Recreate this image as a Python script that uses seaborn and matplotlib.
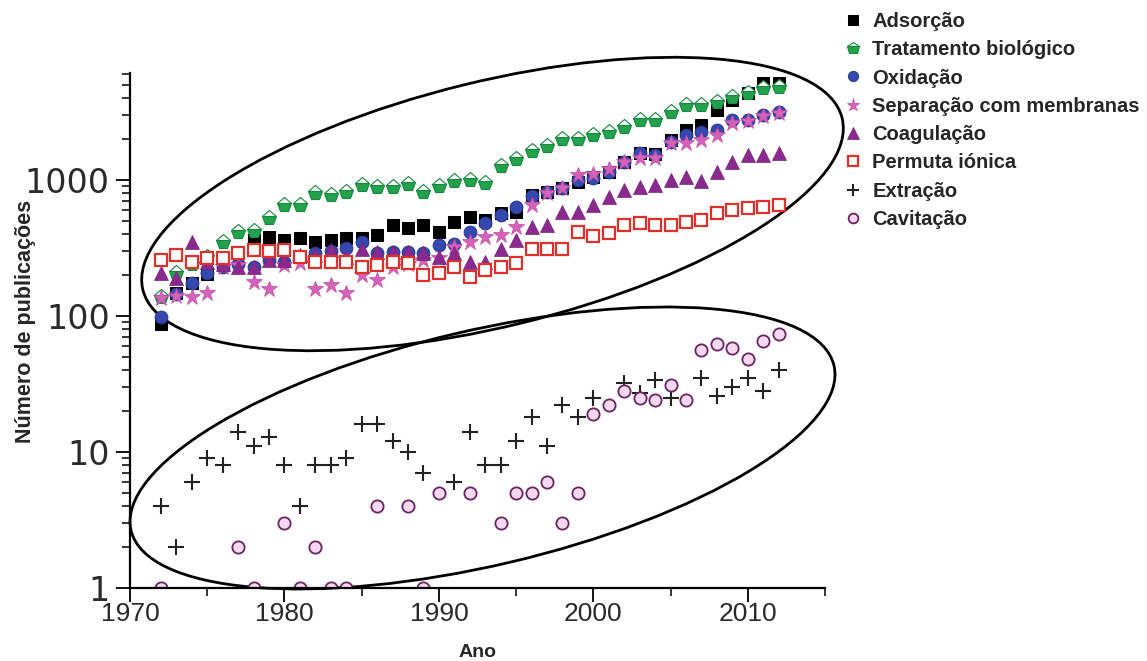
import numpy as np
import pandas as pd
import matplotlib
matplotlib.use("Agg")
import matplotlib.pyplot as plt
import seaborn as sns
from matplotlib.patches import Ellipse
from matplotlib.ticker import FixedLocator, MultipleLocator, LogLocator, NullFormatter, FuncFormatter

nan = np.nan
anos = list(range(1972, 2013))

adsorcao = [88, 148, 175, 205, 245, 297, 362, 383, 362, 373, 351, 362, 373, 373,
            394, 467, 441, 467, 417, 494, 537, 508, 569, 585, 776, 810, 880, 960,
            1050, 1150, 1350, 1580, 1560, 1968, 2333, 2536, 3272, 3873, 4340, 5140, 5200]
tratamento = [139, 207, 240, 273, 351, 417, 425, 526, 655, 655, 798, 776, 820, 919,
              893, 893, 935, 820, 905, 980, 1000, 945, 1260, 1437, 1645, 1788, 2000, 2000,
              2143, 2266, 2466, 2761, 2761, 3177, 3556, 3556, 3764, 4100, 4340, 4720, 4856]
oxidacao = [99, 145, 175, 207, 228, 240, 231, 258, 250, 273, 290, 300, 315, 351,
            290, 297, 297, 290, 331, 341, 417, 481, 550, 638, 760, 820, 870, 1000,
            1030, 1151, 1364, 1570, 1520, 1913, 2143, 2266, 2330, 2761, 2761, 3006, 3177]
membranas = [135, 140, 139, 147, 231, 237, 178, 159, 237, 244, 159, 168, 147, 200,
             184, 230, 240, 258, 265, 324, 351, 383, 394, 455, 655, 798, 870, 1090,
             1100, 1200, 1350, 1443, 1443, 1862, 1862, 1968, 2143, 2612, 2700, 2950, 3100]
coagulacao = [207, 190, 351, 250, 240, 230, 231, 258, 258, 280, 280, 305, 273, 313,
              297, 297, 297, 290, 273, 290, 250, 250, 313, 362, 455, 467, 585, 585,
              655, 753, 844, 893, 919, 1000, 1058, 980, 1151, 1364, 1520, 1520, 1570]
permuta = [258, 281, 250, 265, 265, 290, 305, 302, 305, 273, 250, 250, 250, 231,
           237, 250, 244, 200, 206, 231, 195, 217, 231, 244, 313, 313, 313, 417,
           390, 405, 467, 481, 467, 467, 494, 508, 569, 600, 619, 638, 655]
extracao = [4, 2, 6, 9, 8, 14, 11, 13, 8, 4, 8, 8, 9, 16,
            16, 12, 10, 7, nan, 6, 14, 8, 8, 12, 18, 11, 22, 18,
            25, nan, 32, 27, 34, 25, nan, 35, 26, 30, 35, 28, 40]
cavitacao = [1, nan, nan, nan, nan, 2, 1, nan, 3, 1, 2, 1, 1, nan,
             4, nan, 4, 1, 5, nan, 5, nan, 3, 5, 5, 6, 3, 5,
             19, 22, 28, 25, 24, 31, 24, 56, 62, 58, 48, 65, 74]

series = [
    ("Adsorção", adsorcao,
     dict(marker='s', color='black', markeredgecolor='black', markersize=8.3)),
    ("Tratamento biológico", tratamento,
     dict(marker='p', color='#22a24c', markerfacecoloralt='white', fillstyle='bottom',
          markeredgecolor='#178a3c', markersize=11, markeredgewidth=0.8)),
    ("Oxidação", oxidacao,
     dict(marker='o', color='#3548b0', markeredgecolor='#25337f', markersize=9.3,
          markeredgewidth=0.6)),
    ("Separação com membranas", membranas,
     dict(marker='*', color='#d462b8', markeredgecolor='#c04aa5', markersize=12,
          markeredgewidth=0.5)),
    ("Coagulação", coagulacao,
     dict(marker='^', color='#8a2a8e', markeredgecolor='#7a1f7e', markersize=10,
          markeredgewidth=0.5)),
    ("Permuta iónica", permuta,
     dict(marker='s', color='white', markeredgecolor='#e0302c', markersize=8.3,
          markeredgewidth=1.6)),
    ("Extração", extracao,
     dict(marker='+', color='#222222', markeredgecolor='#222222', markersize=11,
          markeredgewidth=1.5)),
    ("Cavitação", cavitacao,
     dict(marker='o', color='#f6d9ef', markeredgecolor='#6b2463', markersize=8.8,
          markeredgewidth=1.3)),
]

sns.set_style("ticks")
plt.rcParams['font.family'] = ['Liberation Sans', 'DejaVu Sans']

fig = plt.figure(figsize=(11.47, 6.61), dpi=100)
ax = fig.add_axes([130 / 1147, 73 / 661, 695 / 1147, 515 / 661])

for nome, valores, estilo in series:
    df = pd.DataFrame({'Ano': anos, 'n': valores}).dropna()
    sns.lineplot(data=df, x='Ano', y='n', ax=ax, linestyle='', estimator=None,
                 legend=False, label=nome, **estilo)

ax.set_yscale('log')
ax.set_xlim(1970, 2015)
ax.set_ylim(1, 6120)

ax.xaxis.set_major_locator(MultipleLocator(10))
ax.xaxis.set_minor_locator(MultipleLocator(5))
ax.yaxis.set_major_locator(FixedLocator([1, 10, 100, 1000]))
ax.yaxis.set_major_formatter(FuncFormatter(lambda v, p: f"{v:g}"))
ax.yaxis.set_minor_locator(LogLocator(base=10, subs=np.arange(2, 10)))
ax.yaxis.set_minor_formatter(NullFormatter())

ax.tick_params(which='major', length=10, width=1.3, color='black', direction='out')
ax.tick_params(which='minor', length=5.5, width=1.1, color='black', direction='out')
ax.tick_params(axis='x', labelsize=19, labelcolor='#2a2a2a', pad=0)
ax.tick_params(axis='y', labelsize=24, labelcolor='#2a2a2a', pad=4.5)
for lab in ax.get_yticklabels():
    lab.set_family('DejaVu Sans')

sns.despine(ax=ax)
for s in ['left', 'bottom']:
    ax.spines[s].set_linewidth(1.6)
    ax.spines[s].set_color('black')

ax.set_xlabel("Ano", fontsize=14, fontweight='bold', labelpad=13)
ax.set_ylabel("Número de publicações", fontsize=15.5, fontweight='bold', va='center')
ax.yaxis.set_label_coords(-0.151, 0.518)

# elipses que agrupam as duas familias de curvas
for cx, cy, w, h, ang in [(4.925, 4.57, 7.2, 2.45, 13.8), (4.825, 2.13, 7.22, 2.35, 13.2)]:
    ax.add_patch(Ellipse((cx, cy), w, h, angle=ang, transform=fig.dpi_scale_trans,
                         fill=False, edgecolor='black', lw=2, clip_on=False, zorder=1))

handles, labels = ax.get_legend_handles_labels()
ax.legend(handles, labels, loc='upper left', bbox_to_anchor=(843 / 1147, 1 - 12 / 661),
          bbox_transform=fig.transFigure, frameon=False, borderpad=0, borderaxespad=0,
          handlelength=1.0, handletextpad=0.45, labelspacing=0.46, markerscale=0.8,
          prop={'size': 14.5, 'weight': 'bold'})

fig.savefig("out.png", dpi=100, facecolor='white')
